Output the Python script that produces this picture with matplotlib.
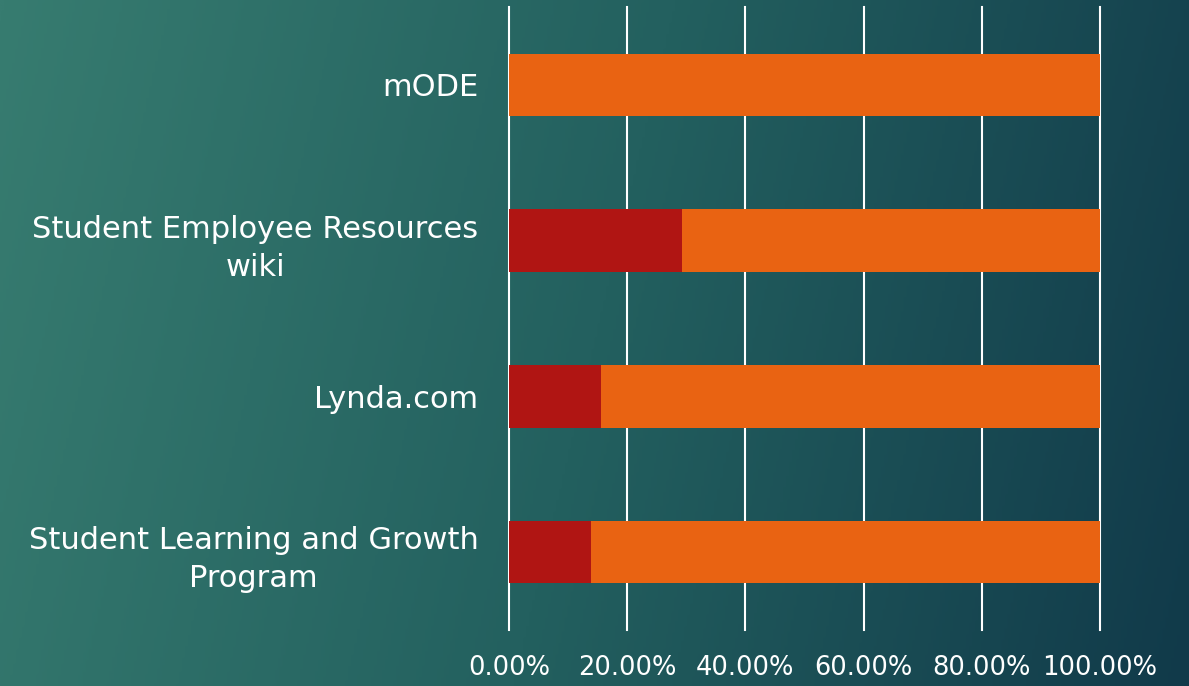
import numpy as np
import matplotlib.pyplot as plt
from matplotlib.colors import LinearSegmentedColormap
from matplotlib.ticker import FuncFormatter

categories = ["mODE", "Student Employee Resources\nwiki", "Lynda.com",
              "Student Learning and Growth\nProgram"]
no_share = [0.0, 29.3, 15.6, 13.9]
yes_share = [100.0, 70.7, 84.4, 86.1]

red = "#b01513"
orange = "#e96312"

fig = plt.figure(figsize=(11.89, 6.86), dpi=100)

# gradient background (mostly left->right, a little darker at the bottom)
bg = fig.add_axes([0, 0, 1, 1])
gx, gy = np.meshgrid(np.linspace(0, 1, 400), np.linspace(0, 1, 240))
g = np.clip(0.88 * gx + 0.12 * gy, 0, 1)
cmap = LinearSegmentedColormap.from_list("bg", ["#377c70", "#23605f", "#113a4a"])
bg.imshow(g, cmap=cmap, aspect="auto", extent=[0, 1, 0, 1], origin="upper")
bg.axis("off")

ax = fig.add_axes([0.4281, 0.0816, 0.4970, 0.9082])
ax.patch.set_alpha(0)
y = np.arange(len(categories))
ax.barh(y, no_share, height=0.4, color=red, zorder=3)
ax.barh(y, yes_share, left=no_share, height=0.4, color=orange, zorder=3)

ax.set_xlim(0, 100)
ax.set_ylim(len(categories) - 0.5, -0.5)
ax.set_xticks(np.arange(0, 101, 20))
ax.xaxis.set_major_formatter(FuncFormatter(lambda v, p: f"{v:.2f}%"))
ax.set_yticks(y)
ax.set_yticklabels(categories)
ax.grid(axis="x", color="white", linewidth=1.5, zorder=1)
for gl in ax.get_xgridlines():
    gl.set_clip_on(False)
for s in ax.spines.values():
    s.set_visible(False)
ax.tick_params(length=0, colors="white")
ax.tick_params(axis="x", pad=18, labelsize=18.5)
ax.tick_params(axis="y", pad=22, labelsize=22)
for lbl in ax.get_yticklabels():
    lbl.set_horizontalalignment("right")
    lbl.set_multialignment("center")
    lbl.set_linespacing(1.4)

fig.savefig("out.png", dpi=100)
